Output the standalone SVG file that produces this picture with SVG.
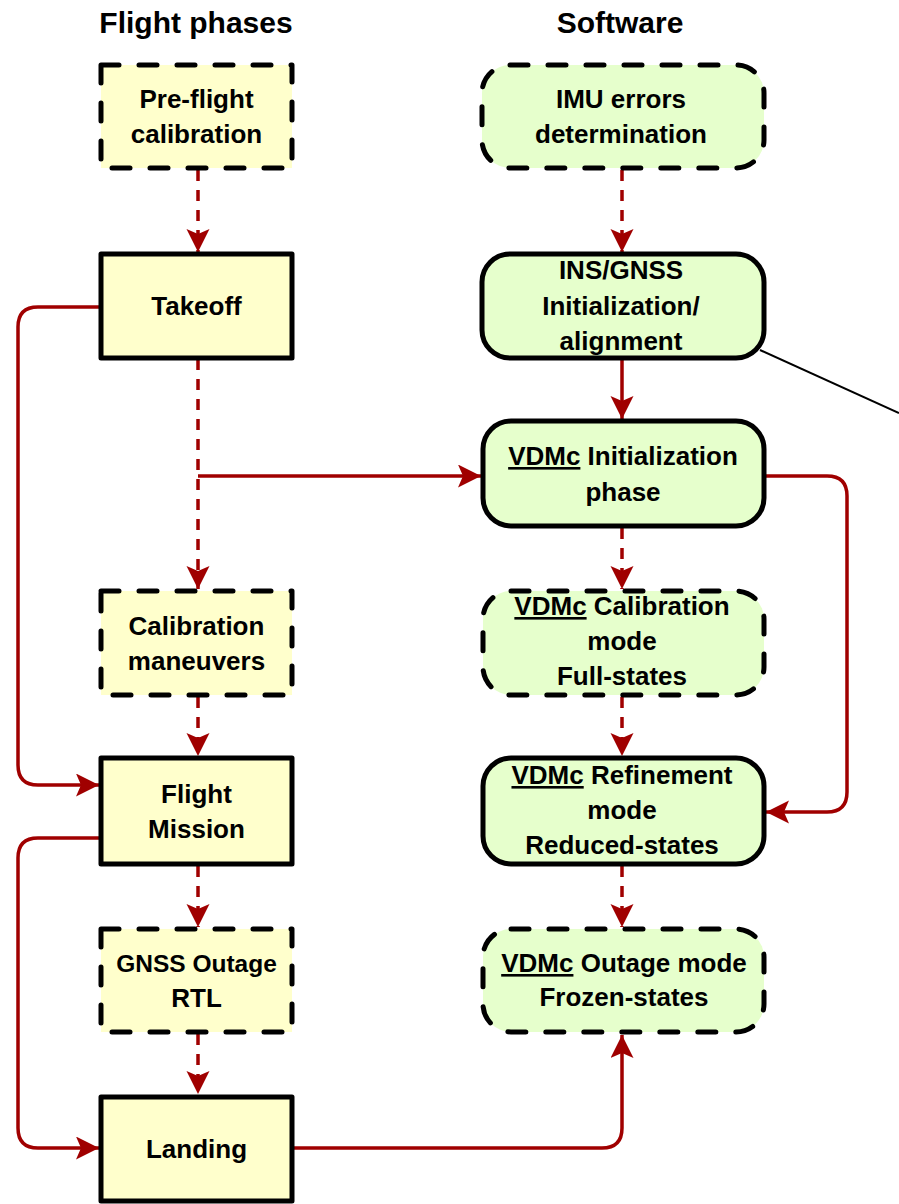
<svg xmlns="http://www.w3.org/2000/svg" width="899" height="1204" viewBox="0 0 899 1204">
  <defs>
    <marker id="arrow" markerUnits="userSpaceOnUse" markerWidth="24" markerHeight="24" viewBox="0 0 24 24" refX="23" refY="11.5" orient="auto">
      <path d="M0,0 L23,11.5 L0,23 L5,11.5 Z" fill="#A00000"/>
    </marker>
    <style>
      .title { font-family: "Liberation Sans", Arial, sans-serif; font-weight: bold; font-size: 30px; fill: #000; text-anchor: middle; }
      .lbl { font-family: "Liberation Sans", Arial, sans-serif; font-weight: bold; font-size: 26px; fill: #000; text-anchor: middle; }
      .lbl.sm { font-size: 24.5px; }
      .u { text-decoration: underline; }
      .phase { fill: #FFFFCC; stroke: #000; stroke-width: 5; stroke-linejoin: round; }
      .soft { fill: #E6FFCC; stroke: #000; stroke-width: 5; }
      .dash { stroke-dasharray: 18 20; stroke-linecap: round; }
      .flow { fill: none; stroke: #A00000; stroke-width: 3.5; }
      .flow.d { stroke-dasharray: 11 9; }
      .arr { marker-end: url(#arrow); }
    </style>
  </defs>

  <!-- column headings -->
  <text class="title" x="196" y="33">Flight phases</text>
  <text class="title" x="620" y="33">Software</text>

  <!-- connectors -->
  <g id="connectors">
    <path class="flow d arr" d="M198,170 L198,252"/>
    <path class="flow d arr" d="M622,170 L622,252"/>
    <path class="flow arr" d="M622,359 L622,419"/>
    <path class="flow d arr" d="M198,359 L198,589"/>
    <path class="flow arr" d="M198,476 L481,476"/>
    <path class="flow arr" d="M100,307 L38,307 Q18,307 18,327 L18,765 Q18,785 38,785 L99,785"/>
    <path class="flow arr" d="M100,838 L38,838 Q18,838 18,858 L18,1128 Q18,1148 38,1148 L99,1148"/>
    <path class="flow arr" d="M294,1148 L602,1148 Q622,1148 622,1128 L622,1035"/>
    <path class="flow arr" d="M766,476 L827,476 Q847,476 847,496 L847,792 Q847,812 827,812 L766,812"/>
    <path class="flow d arr" d="M622,528 L622,589"/>
    <path class="flow d arr" d="M622,697 L622,756"/>
    <path class="flow d arr" d="M622,866 L622,927"/>
    <path class="flow d arr" d="M198,697 L198,756"/>
    <path class="flow d arr" d="M198,866 L198,927"/>
    <path class="flow d arr" d="M198,1034 L198,1094"/>
    <path d="M760,350 L899,413" fill="none" stroke="#000" stroke-width="2"/>
  </g>

  <!-- flight phases -->
  <g id="preflight">
    <rect class="phase dash" x="101" y="65" width="191" height="103"/>
    <text class="lbl" x="196.5" y="108">Pre-flight</text>
    <text class="lbl" x="196.5" y="143">calibration</text>
  </g>
  <g id="takeoff">
    <rect class="phase" x="101" y="254" width="191" height="104"/>
    <text class="lbl" x="196.5" y="315">Takeoff</text>
  </g>
  <g id="calib-maneuvers">
    <rect class="phase dash" x="101" y="591" width="191" height="104"/>
    <text class="lbl" x="196.5" y="635">Calibration</text>
    <text class="lbl" x="196.5" y="670">maneuvers</text>
  </g>
  <g id="flight-mission">
    <rect class="phase" x="101" y="758" width="191" height="106"/>
    <text class="lbl" x="196.5" y="803">Flight</text>
    <text class="lbl" x="196.5" y="838">Mission</text>
  </g>
  <g id="gnss-outage">
    <rect class="phase dash" x="101" y="929" width="191" height="103"/>
    <text class="lbl sm" x="196.5" y="972">GNSS Outage</text>
    <text class="lbl" x="196.5" y="1007">RTL</text>
  </g>
  <g id="landing">
    <rect class="phase" x="101" y="1097" width="191" height="104"/>
    <text class="lbl" x="196.5" y="1158">Landing</text>
  </g>

  <!-- software -->
  <g id="imu-errors">
    <rect class="soft dash" x="482" y="65" width="282" height="103" rx="28"/>
    <text class="lbl" x="621" y="108">IMU errors</text>
    <text class="lbl" x="621" y="143">determination</text>
  </g>
  <g id="ins-gnss-init">
    <rect class="soft" x="482" y="254" width="282" height="104" rx="28"/>
    <text class="lbl" x="621" y="279">INS/GNSS</text>
    <text class="lbl" x="621" y="315">Initialization/</text>
    <text class="lbl" x="621" y="350">alignment</text>
  </g>
  <g id="vdmc-init">
    <rect class="soft" x="483" y="421" width="281" height="105" rx="28"/>
    <text class="lbl" x="623" y="465"><tspan class="u">VDMc</tspan> Initialization</text>
    <text class="lbl" x="623" y="501">phase</text>
  </g>
  <g id="vdmc-calibration">
    <rect class="soft dash" x="483" y="591" width="281" height="104" rx="28"/>
    <text class="lbl" x="622" y="615"><tspan class="u">VDMc</tspan> Calibration</text>
    <text class="lbl" x="622" y="650">mode</text>
    <text class="lbl" x="622" y="685">Full-states</text>
  </g>
  <g id="vdmc-refinement">
    <rect class="soft" x="483" y="758" width="281" height="106" rx="28"/>
    <text class="lbl" x="622" y="784"><tspan class="u">VDMc</tspan> Refinement</text>
    <text class="lbl" x="622" y="819">mode</text>
    <text class="lbl" x="622" y="854">Reduced-states</text>
  </g>
  <g id="vdmc-outage">
    <rect class="soft dash" x="483" y="929" width="281" height="103" rx="28"/>
    <text class="lbl" x="624" y="972"><tspan class="u">VDMc</tspan> Outage mode</text>
    <text class="lbl" x="624" y="1006">Frozen-states</text>
  </g>
</svg>
